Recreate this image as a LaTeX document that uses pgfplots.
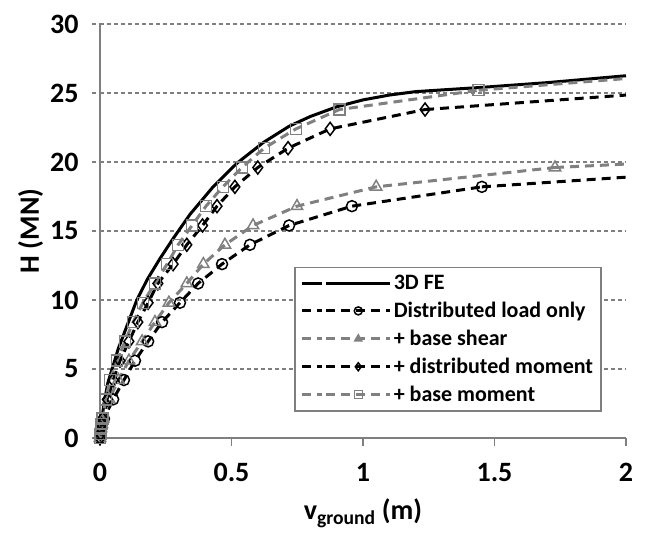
\documentclass[border=0pt]{standalone}
\usepackage{pgfplots}
\pgfplotsset{compat=1.18}
\usepackage{fontspec}
\setmainfont{Carlito}
\definecolor{gr}{HTML}{7F7F7F}
\definecolor{sg}{HTML}{808080}
\begin{document}
\begin{tikzpicture}
\begin{axis}[name=ax, scale only axis, width=526pt, height=414pt,
  xmin=0, xmax=2, ymin=0, ymax=30,
  xtick={0,0.5,1,1.5,2}, ytick={0,5,10,15,20,25,30},
  axis x line*=bottom, axis y line*=left,
  axis line style={gr, line width=2pt},
  ymajorgrids, grid style={gr, line width=1.5pt, dash pattern=on 4pt off 3pt},
  tick align=outside, major tick length=8pt,
  x tick style={gr, line width=1.5pt},
  y tick style={gr, line width=1.5pt, dash pattern=on 4pt off 3pt},
  tick label style={font=\fontsize{28}{32}\selectfont\bfseries},
  /pgf/number format/assume math mode=true,
  xticklabel style={yshift=-14pt},
  yticklabel style={xshift=-10pt},
  xlabel={v\textsubscript{ground} (m)}, ylabel={H (MN)},
  label style={font=\fontsize{28}{32}\selectfont\bfseries},
  xlabel style={yshift=-10pt},
  clip=false,
  legend style={at={(0.954,0.063)}, anchor=south east, draw=gr, line width=1.5pt,
    font=\fontsize{22}{26}\selectfont\bfseries, inner xsep=6pt, inner ysep=6pt, row sep=7pt},
  legend cell align=left,
  legend image code/.code={\path (0pt,0pt) -- (20pt,0pt);\draw[mark repeat=2,mark phase=2,mark size=4pt,#1] plot coordinates {(24pt,0pt)(56pt,0pt)(88pt,0pt)};},
  dl/.style={black, line width=3pt, dash pattern=on 9pt off 6pt},
  gl/.style={sg, line width=3pt, dash pattern=on 9pt off 6pt},
]
\addplot[black, line width=3pt] coordinates {(0,0)(0.005,1)(0.015,2.5)(0.03,4)(0.046,5)(0.07,6.5)(0.1,8)(0.14,10)(0.18,11.5)(0.228,13.0)(0.278,14.45)(0.342,16.2)(0.43,18.2)(0.52,19.9)(0.62,21.4)(0.72,22.6)(0.8,23.3)(0.9,24.0)(1.0,24.5)(1.1,24.85)(1.2,25.1)(1.445,25.4)(1.7,25.75)(2,26.25)};
\addlegendentry{3D FE}
\addplot[dl, mark=o, mark size=5.5pt, mark options={solid, line width=1.5pt}] coordinates {(0,0)(0.002,0.3)(0.004,0.7)(0.008,1.0)(0.015,1.4)(0.05,2.8)(0.091,4.2)(0.133,5.6)(0.183,7.0)(0.236,8.4)(0.304,9.8)(0.373,11.2)(0.464,12.6)(0.570,14.0)(0.719,15.4)(0.958,16.8)(1.452,18.2)};
\addlegendentry{Distributed load only}
\addplot[gl, mark=triangle, mark size=6.5pt, mark options={solid, line width=1.5pt}] coordinates {(0,0)(0.002,0.3)(0.004,0.7)(0.007,1.0)(0.012,1.4)(0.035,2.8)(0.07,4.2)(0.11,5.6)(0.16,7.0)(0.209,8.4)(0.262,9.8)(0.33,11.2)(0.393,12.6)(0.475,14.0)(0.582,15.4)(0.749,16.8)(1.05,18.2)(1.73,19.6)};
\addlegendentry{+ base shear}
\addplot[dl, mark=diamond, mark size=6.5pt, mark options={solid, line width=1.5pt}] coordinates {(0,0)(0.002,0.3)(0.004,0.7)(0.006,1.0)(0.01,1.4)(0.028,2.8)(0.05,4.2)(0.076,5.6)(0.11,7.0)(0.144,8.4)(0.183,9.8)(0.22,11.2)(0.278,12.6)(0.33,14.0)(0.39,15.4)(0.445,16.8)(0.513,18.2)(0.60,19.6)(0.715,21.0)(0.875,22.4)(1.236,23.8)};
\addlegendentry{+ distributed moment}
\addplot[gl, mark=square, mark size=5.5pt, mark options={solid, line width=1.5pt}] coordinates {(0,0)(0.002,0.3)(0.004,0.7)(0.006,1.0)(0.01,1.4)(0.022,2.8)(0.038,4.2)(0.065,5.6)(0.095,7.0)(0.126,8.4)(0.163,9.8)(0.209,11.2)(0.255,12.6)(0.297,14.0)(0.35,15.4)(0.403,16.8)(0.467,18.2)(0.54,19.6)(0.624,21.0)(0.745,22.4)(0.91,23.8)(1.44,25.2)};
\addlegendentry{+ base moment}
\addplot[dl, forget plot] coordinates {(1.452,18.2)(2,18.9)};
\addplot[gl, forget plot] coordinates {(1.73,19.6)(2,19.85)};
\addplot[dl, forget plot] coordinates {(1.236,23.8)(2,24.85)};
\addplot[gl, forget plot] coordinates {(1.44,25.2)(2,26.05)};
\end{axis}
\pgfresetboundingbox
\path[use as bounding box] ([shift={(-100pt,-94pt)}]ax.south west) rectangle ([shift={(20pt,24pt)}]ax.north east);
\end{tikzpicture}
\end{document}
